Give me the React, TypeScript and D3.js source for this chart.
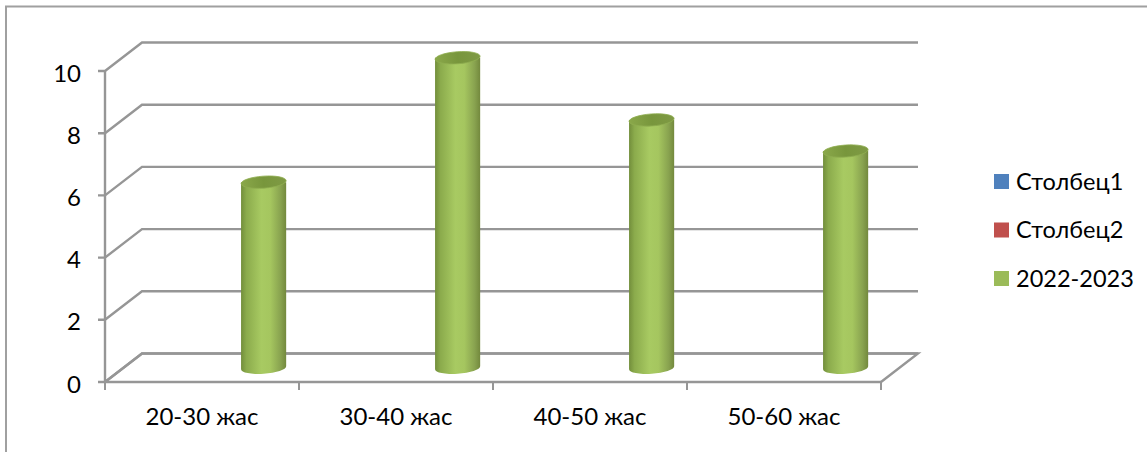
import React from "react";
import * as d3 from "d3";

const categories = ["20-30 жас", "30-40 жас", "40-50 жас", "50-60 жас"];
const seriesNames = ["Столбец1", "Столбец2", "2022-2023"];
const seriesColors = ["#4f81bd", "#c0504d", "#9bbb59"];
const values2023 = [6, 10, 8, 7];
const yTicks = [0, 2, 4, 6, 8, 10];

const W = 1147, H = 452;
const FONT = "Lato, 'Open Sans', sans-serif";
const GRID = "#969696";
const depthX = 37, depthY = 28.5;

const x = d3.scaleBand<string>().domain(categories).range([105, 881]);
const y = d3.scaleLinear().domain([0, 10]).range([382, 71]);
const inner = d3.scaleBand<string>().domain(seriesNames).range([0, x.bandwidth()]).paddingInner(0).paddingOuter(0.75);

export default function App() {
  const cw = inner.bandwidth() + 2;
  const rx = cw / 2;
  const ry = 6;
  const tilt = -4;
  const floorPath = d3.path();
  floorPath.moveTo(105, y(0));
  floorPath.lineTo(105 + depthX, y(0) - depthY);
  floorPath.lineTo(881 + depthX, y(0) - depthY);
  floorPath.lineTo(881, y(0));
  return (
    <svg width={W} height={H} style={{ position: "absolute", left: 0, top: 0, background: "#fff" }}>
      <defs>
        <linearGradient id="cyl" x1="0" x2="1" y1="0" y2="0">
          <stop offset="0" stopColor="#728e3b" />
          <stop offset="0.12" stopColor="#8bab4c" />
          <stop offset="0.45" stopColor="#a8ca62" />
          <stop offset="0.65" stopColor="#a5c65f" />
          <stop offset="0.88" stopColor="#88a24f" />
          <stop offset="1" stopColor="#73893d" />
        </linearGradient>
        <linearGradient id="cap" x1="0" x2="1" y1="0" y2="0">
          <stop offset="0" stopColor="#8aa84a" />
          <stop offset="0.5" stopColor="#78963c" />
          <stop offset="1" stopColor="#7f9a45" />
        </linearGradient>
      </defs>
      <path d={`M6,452V6.5H1147`} fill="none" stroke="#a0a0a0" strokeWidth={2} />
      {yTicks.map((t) => (
        <g key={t}>
          <path d={`M98,${y(t)}H105L${105 + depthX},${y(t) - depthY}H${881 + depthX}`} fill="none" stroke={GRID} strokeWidth={2.4} />
          <text x={81} y={y(t) + 1} textAnchor="end" dominantBaseline="central" fontFamily={FONT} fontSize={24} fill="#000">{t}</text>
        </g>
      ))}
      <path d={floorPath.toString()} fill="none" stroke={GRID} strokeWidth={2.4} />
      <line x1={105} x2={881} y1={y(0)} y2={y(0)} stroke={GRID} strokeWidth={2.4} />
      <line x1={105} x2={105} y1={y(10)} y2={y(0)} stroke={GRID} strokeWidth={2.4} />
      {[...categories.map((c) => x(c)!), 881].map((px, i) => (
        <line key={i} x1={px} x2={px} y1={y(0)} y2={y(0) + 8} stroke={GRID} strokeWidth={2} />
      ))}
      {categories.map((c, i) => {
        const cx = x(c)! + inner(seriesNames[2])! + inner.bandwidth() / 2 + depthX / 2;
        const base = y(0) - depthY / 2;
        const top = y(values2023[i]) - depthY / 2 + 1;
        return (
          <g key={c}>
            <path
              d={`M${cx - rx},${top}V${base + 1.5}A${rx},${ry} ${tilt} 0 0 ${cx + rx},${base - 1.5}V${top}Z`}
              fill="url(#cyl)"
            />
            <ellipse cx={cx} cy={top} rx={rx} ry={ry} transform={`rotate(${tilt} ${cx} ${top})`} fill="url(#cap)" stroke="#8fae50" strokeWidth={0.8} />
            <text x={x(c)! + x.bandwidth() / 2} y={425} textAnchor="middle" fontFamily={FONT} fontSize={24} fill="#000">{c}</text>
          </g>
        );
      })}
      {seriesNames.map((s, i) => (
        <g key={s}>
          <rect x={994} y={174 + i * 48.5} width={15} height={15} fill={seriesColors[i]} />
          <text x={1016} y={180.5 + i * 48.5} dominantBaseline="central" fontFamily={FONT} fontSize={23.5} fill="#000">{s}</text>
        </g>
      ))}
    </svg>
  );
}
